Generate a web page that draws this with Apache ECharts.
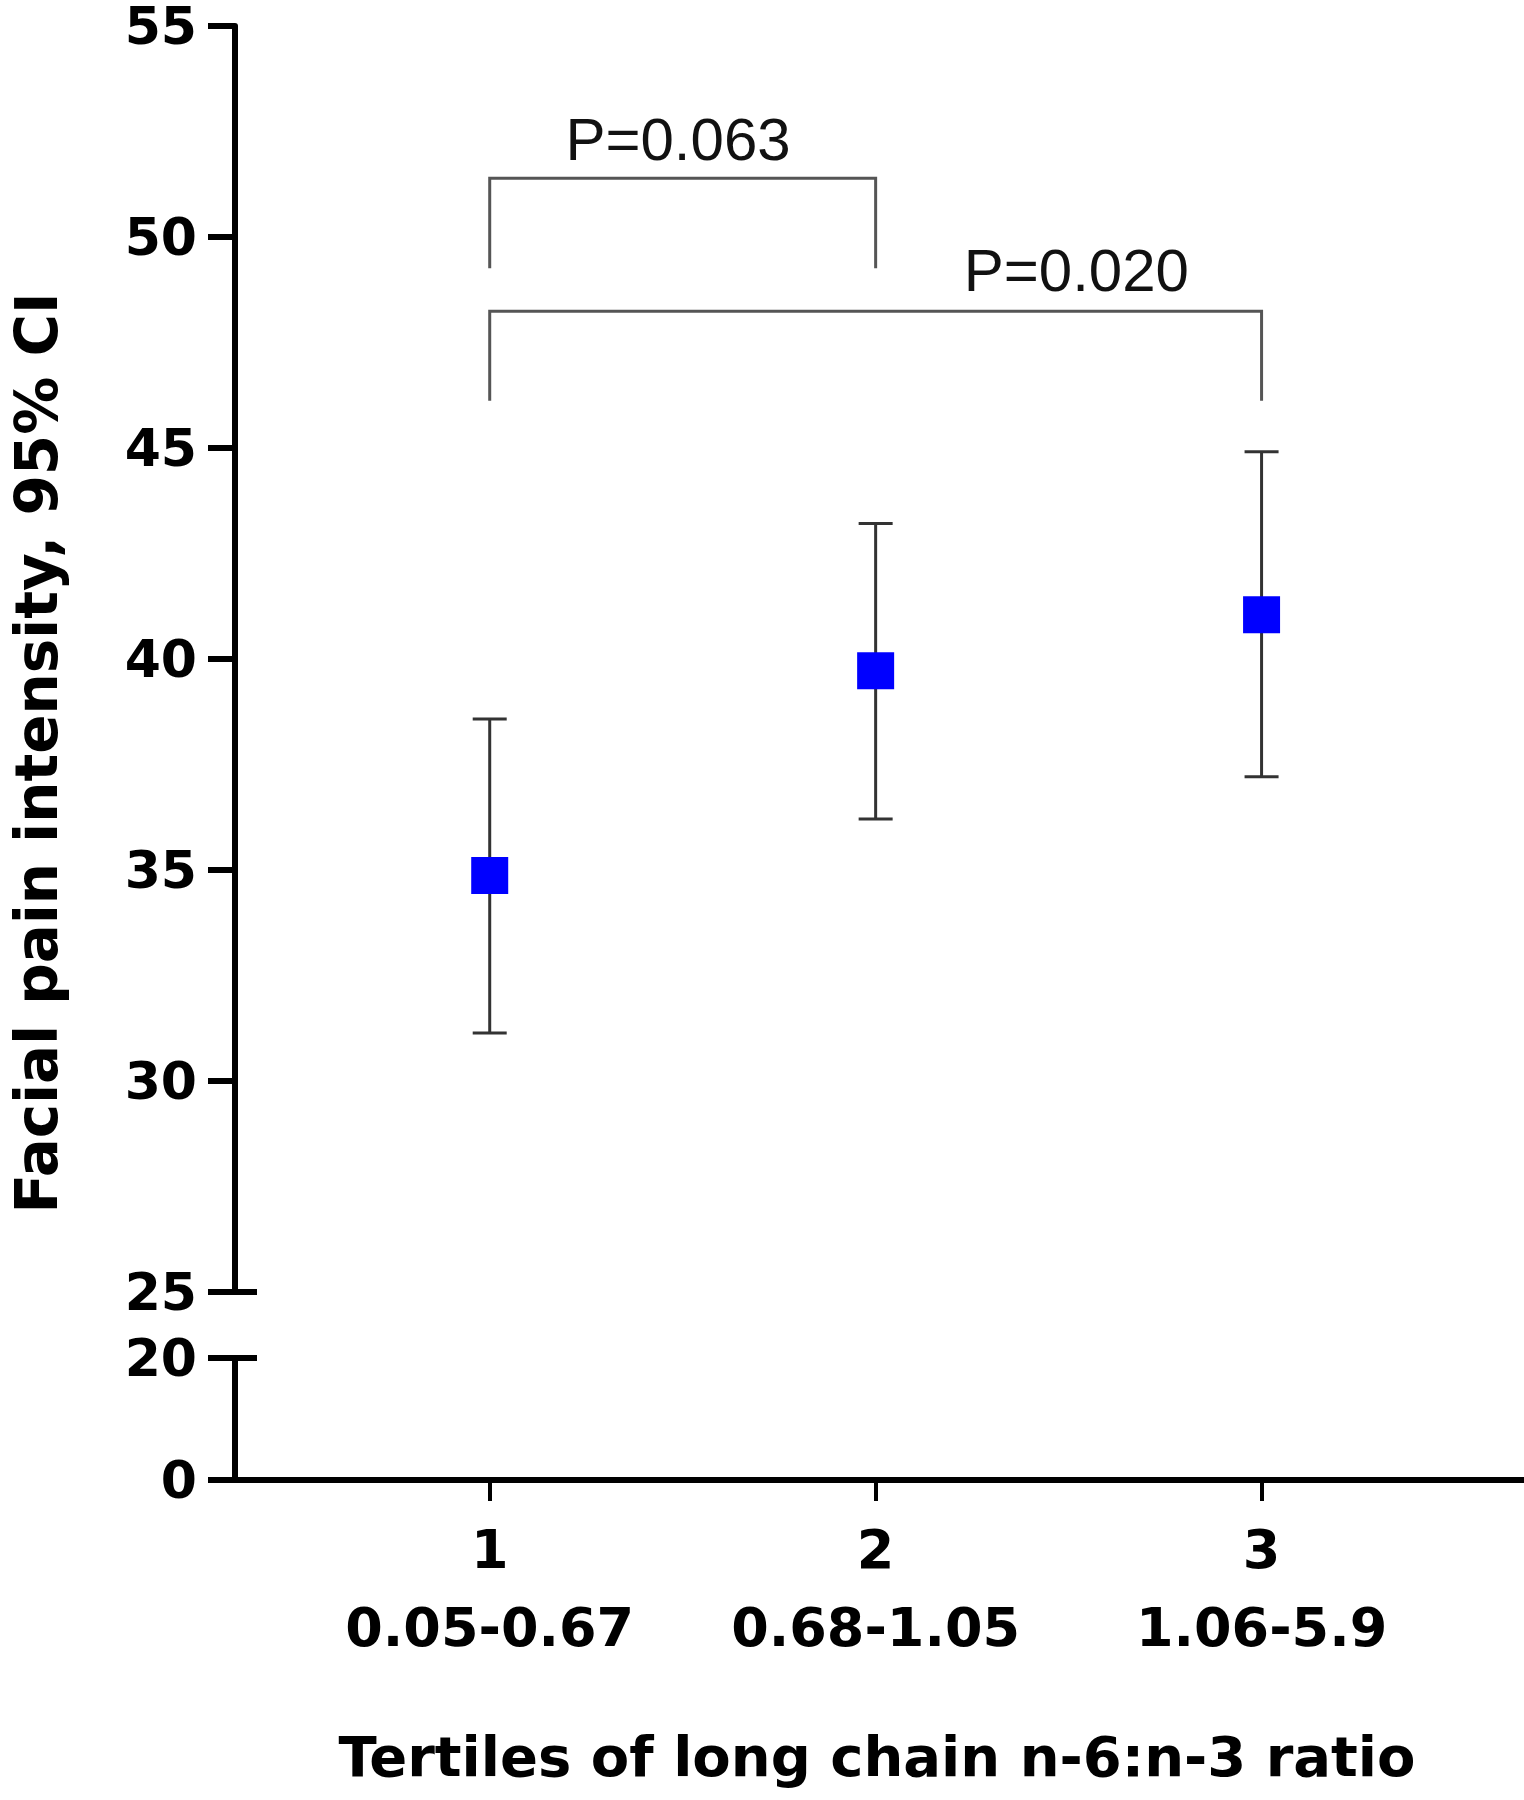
<!DOCTYPE html>
<html>
<head>
<meta charset="utf-8">
<script src="https://cdn.jsdelivr.net/npm/echarts@6.0.0/dist/echarts.min.js"></script>
<style>
  html, body { margin: 0; padding: 0; background: #fff; }
  #chart { width: 1524px; height: 1800px; }
</style>
</head>
<body>
<div id="chart"></div>
<script>
/* ---------------- Data ---------------- */
const tertiles = [1, 2, 3];
const ranges = ["0.05-0.67", "0.68-1.05", "1.06-5.9"];
const means = [34.87, 39.72, 41.05];
const ciLow = [31.14, 36.21, 37.21];
const ciHigh = [38.58, 43.21, 44.91];

// significance brackets
const bracketFrom = [1, 1];
const bracketTo = [2, 3];
const bracketTop = [51.39, 48.24];
const bracketBottom = [49.26, 46.12];
const pLabels = ["P=0.063", "P=0.020"];
const pLabelX = [1.488, 2.52];
const pLabelY = [52.31, 49.2];

/* ---------------- Styles ---------------- */
const BOLD = "DejaVu Sans";
const X_MIN = 0.34;
const X_MAX = 3.68;

const axisLine = { show: true, onZero: false, lineStyle: { color: "#000", width: 6 } };
const axisTick = { show: true, length: 27, lineStyle: { color: "#000", width: 6 } };
const tickLabel = {
  color: "#000",
  fontFamily: BOLD,
  fontWeight: "bold",
  fontSize: 52,
  lineHeight: 40,
  margin: 38
};

/* ---------------- Chart ---------------- */
const chart = echarts.init(document.getElementById("chart"), null, { renderer: "svg" });

const errorData = tertiles.map((t, i) => [t, ciLow[i], ciHigh[i]]);
const bracketData = bracketFrom.map((f, i) => [
  f, bracketTo[i], bracketTop[i], bracketBottom[i], pLabelX[i], pLabelY[i]
]);

const option = {
  animation: false,
  backgroundColor: "#fff",
  grid: [
    { left: 235, right: 0, top: 22, height: 1270 },
    { left: 235, right: 0, top: 1358, height: 122 }
  ],
  xAxis: [
    { gridIndex: 0, type: "value", min: X_MIN, max: X_MAX, show: false },
    {
      gridIndex: 1,
      type: "value",
      min: X_MIN,
      max: X_MAX,
      axisLine: axisLine,
      axisTick: {
        show: true,
        customValues: tertiles,
        length: 21,
        lineStyle: { color: "#000", width: 4 }
      },
      axisLabel: {
        customValues: tertiles,
        formatter: v => `${v}\n${ranges[tertiles.indexOf(v)]}`,
        color: "#000",
        fontFamily: BOLD,
        fontWeight: "bold",
        fontSize: 54,
        lineHeight: 78,
        margin: 30
      },
      splitLine: { show: false }
    }
  ],
  yAxis: [
    {
      gridIndex: 0,
      type: "value",
      min: 25,
      max: 55,
      interval: 5,
      axisLine: axisLine,
      axisTick: axisTick,
      axisLabel: tickLabel,
      splitLine: { show: false }
    },
    {
      // break marker at 25 (tick to the right)
      gridIndex: 0,
      type: "value",
      position: "left",
      min: 25,
      max: 55,
      axisLine: { show: false },
      axisTick: { show: true, inside: true, length: 22, customValues: [25], lineStyle: { color: "#000", width: 6 } },
      axisLabel: { show: false },
      splitLine: { show: false }
    },
    {
      gridIndex: 1,
      type: "value",
      min: 0,
      max: 20,
      interval: 20,
      axisLine: axisLine,
      axisTick: axisTick,
      axisLabel: tickLabel,
      splitLine: { show: false }
    },
    {
      // break marker at 20
      gridIndex: 1,
      type: "value",
      position: "left",
      min: 0,
      max: 20,
      axisLine: { show: false },
      axisTick: { show: true, inside: true, length: 22, customValues: [20], lineStyle: { color: "#000", width: 6 } },
      axisLabel: { show: false },
      splitLine: { show: false }
    }
  ],
  graphic: [
    {
      type: "text",
      x: 37,
      y: 753,
      rotation: Math.PI / 2,
      style: {
        text: "Facial pain intensity, 95% CI",
        fill: "#000",
        font: `bold 58px "${BOLD}"`,
        align: "center",
        verticalAlign: "middle"
      }
    },
    {
      type: "text",
      x: 877,
      y: 1756,
      style: {
        text: "Tertiles of long chain n-6:n-3 ratio",
        fill: "#000",
        font: `bold 56px "${BOLD}"`,
        align: "center",
        verticalAlign: "middle"
      }
    }
  ],
  series: [
    {
      type: "custom",
      name: "95% CI",
      xAxisIndex: 0,
      yAxisIndex: 0,
      data: errorData,
      z: 2,
      renderItem: (params, api) => {
        const x = api.value(0);
        const lo = api.coord([x, api.value(1)]);
        const hi = api.coord([x, api.value(2)]);
        const half = 17;
        const style = { stroke: "#333", lineWidth: 3 };
        return {
          type: "group",
          children: [
            { type: "line", shape: { x1: lo[0], y1: lo[1], x2: hi[0], y2: hi[1] }, style },
            { type: "line", shape: { x1: hi[0] - half, y1: hi[1], x2: hi[0] + half, y2: hi[1] }, style },
            { type: "line", shape: { x1: lo[0] - half, y1: lo[1], x2: lo[0] + half, y2: lo[1] }, style }
          ]
        };
      }
    },
    {
      type: "scatter",
      name: "Mean",
      xAxisIndex: 0,
      yAxisIndex: 0,
      symbol: "rect",
      symbolSize: 37,
      itemStyle: { color: "#0000ff", opacity: 1 },
      data: tertiles.map((t, i) => [t, means[i]]),
      z: 3
    },
    {
      type: "custom",
      name: "P values",
      xAxisIndex: 0,
      yAxisIndex: 0,
      data: bracketData,
      renderItem: (params, api) => {
        const i = params.dataIndex;
        const a = api.coord([api.value(0), api.value(3)]);
        const b = api.coord([api.value(0), api.value(2)]);
        const c = api.coord([api.value(1), api.value(2)]);
        const d = api.coord([api.value(1), api.value(3)]);
        const t = api.coord([api.value(4), api.value(5)]);
        return {
          type: "group",
          children: [
            {
              type: "polyline",
              shape: { points: [a, b, c, d] },
              style: { stroke: "#555", lineWidth: 3, fill: "none" }
            },
            {
              type: "text",
              x: t[0],
              y: t[1],
              style: {
                text: pLabels[i],
                fill: "#111",
                font: '60px "Liberation Sans"',
                align: "center",
                verticalAlign: "middle"
              }
            }
          ]
        };
      }
    }
  ]
};

chart.setOption(option);
</script>
</body>
</html>
